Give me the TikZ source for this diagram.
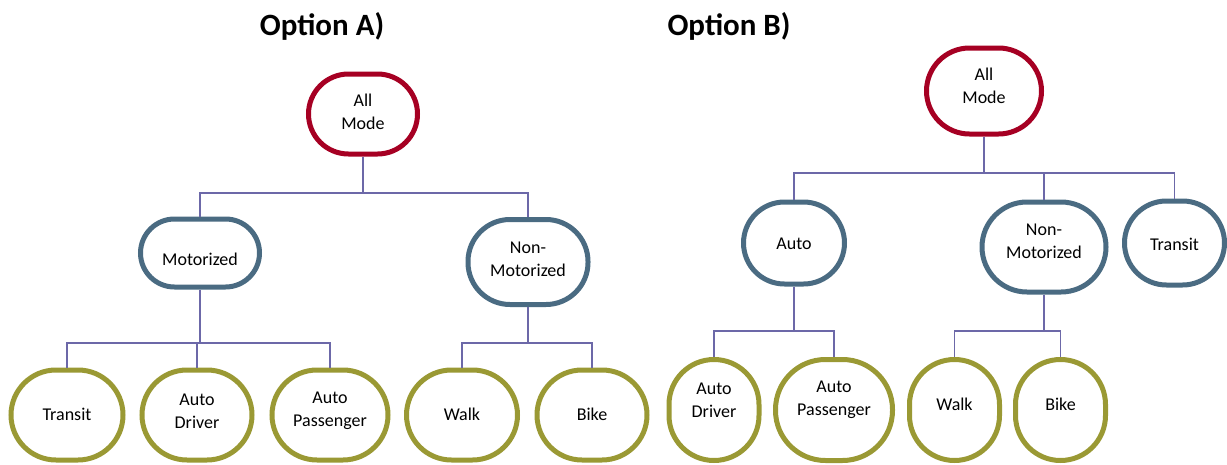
\documentclass[tikz,border=0pt]{standalone}
\usepackage{fontspec}
\setmainfont{Carlito}
\definecolor{topred}{RGB}{166,0,35}
\definecolor{midblue}{RGB}{74,107,130}
\definecolor{leafolive}{RGB}{154,153,52}
\definecolor{linkcol}{RGB}{108,104,168}
\begin{document}
\begin{tikzpicture}[x=1pt,y=-1pt,
  mb/.style n args={3}{draw, fill=white, line width=5pt, rectangle, inner sep=0pt,
     minimum width=#1pt, minimum height=#2pt, rounded corners=#3pt},
  lbl/.style={align=center, inner sep=0pt, font=\fontsize{18}{23}\selectfont},
  txt/.style 2 args={label={[lbl, yshift=#2pt]center:#1}},
  topnode/.style={draw=topred},
  midnode/.style={draw=midblue},
  leafnode/.style={draw=leafolive},
  link/.style={draw=linkcol, line width=1.7pt},
  titletext/.style={font=\fontsize{31}{37}\selectfont\bfseries}]
\useasboundingbox (0,0) rectangle (1227,464);
% bus levels
\coordinate (busA1) at (0,193);
\coordinate (busA2) at (0,343);
\coordinate (busB1) at (0,173);
\coordinate (busB2) at (0,331);
% titles
\node[titletext] (tA) at (322,26) {Option A)};
\node[titletext] (tB) at (729,26) {Option B)};
% ---------- Option A nodes ----------
\node[mb={109}{80}{40}, topnode, txt={All\\Mode}{2}] (amA) at (363,114) {};
\node[mb={119}{68}{34}, midnode, txt={Motorized}{-6}] (motA) at (200,253) {};
\node[mb={120}{85}{42}, midnode, txt={Non-\\Motorized}{3}] (nonA) at (528,262) {};
\node[mb={112}{90}{45}, leafnode, txt={Transit}{1}] (transA) at (67,415) {};
\node[mb={110}{90}{45}, leafnode, txt={Auto\\Driver}{4}] (drvA) at (197,415) {};
\node[mb={116}{90}{45}, leafnode, txt={Auto\\Passenger}{4}] (pasA) at (330,415) {};
\node[mb={111}{90}{45}, leafnode, txt={Walk}{1}] (walkA) at (462,415) {};
\node[mb={110}{90}{45}, leafnode, txt={Bike}{1}] (bikeA) at (592,415) {};
% ---------- Option B nodes ----------
\node[mb={115}{86}{43}, topnode, txt={All\\Mode}{5}] (amB) at (984,91) {};
\node[mb={101}{82}{41}, midnode, txt={Auto}{-1}] (autoB) at (794,243) {};
\node[mb={124}{90}{45}, midnode, txt={Non-\\Motorized}{6}] (nonB) at (1044,247) {};
\node[mb={100}{84}{42}, midnode, txt={Transit}{-1}] (transB) at (1174.5,243) {};
\node[mb={90}{101}{45}, leafnode, txt={Auto\\Driver}{10}] (drvB) at (714,410) {};
\node[mb={117}{101}{50}, leafnode, txt={Auto\\Passenger}{10}] (pasB) at (834,410) {};
\node[mb={90}{101}{45}, leafnode, txt={Walk}{6}] (walkB) at (954.5,410) {};
\node[mb={90}{101}{45}, leafnode, txt={Bike}{6}] (bikeB) at (1060.5,410) {};
% ---------- connectors ----------
\draw[link] (amA.south) -- (amA.south |- busA1) -| (motA.north);
\draw[link] (amA.south |- busA1) -| (nonA.north);
\draw[link] (motA.south) -- (motA.south |- busA2) -| (transA.north);
\draw[link] (motA.south |- busA2) -| (pasA.north);
\draw[link] (drvA.north |- busA2) -- (drvA.north);
\draw[link] (nonA.south) -- (nonA.south |- busA2) -| (walkA.north);
\draw[link] (nonA.south |- busA2) -| (bikeA.north);
\draw[link] (amB.south) -- (amB.south |- busB1) -| (autoB.north);
\draw[link] (amB.south |- busB1) -| (transB.north);
\draw[link] (nonB.north |- busB1) -- (nonB.north);
\draw[link] (autoB.south) -- (autoB.south |- busB2) -| (drvB.north);
\draw[link] (autoB.south |- busB2) -| (pasB.north);
\draw[link] (nonB.south) -- (nonB.south |- busB2) -| (walkB.north);
\draw[link] (nonB.south |- busB2) -| (bikeB.north);
\end{tikzpicture}
\end{document}
